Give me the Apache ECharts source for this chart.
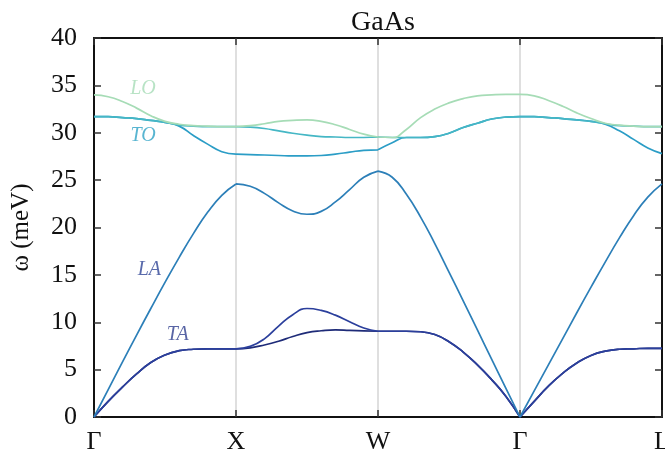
<!DOCTYPE html>
<html>
<head>
<meta charset="utf-8">
<script src="https://cdn.jsdelivr.net/npm/echarts@6/dist/echarts.min.js"></script>
<style>
  html, body { margin: 0; padding: 0; background: #fff; }
  #chart { width: 665px; height: 459px; }
</style>
</head>
<body>
<div id="chart"></div>
<script>
// path position along Γ-X-W-Γ-L, 10 steps per segment
const kPath = []
for (let i = 0; i <= 40; i++) kPath.push(i / 10)
const kLabels = ['Γ', 'X', 'W', 'Γ', 'L']
const yTicks = [0, 5, 10, 15, 20, 25, 30, 35, 40]

// bands sorted by energy (meV)
const bandTA1 = [
  0, 1.65, 3.15, 4.55, 5.75, 6.55, 7.0, 7.15, 7.2, 7.2, 7.2,
  7.3, 7.6, 8.0, 8.5, 8.9, 9.1, 9.2, 9.15, 9.1, 9.05,
  9.05, 9.05, 9.0, 8.7, 7.95, 6.85, 5.5, 3.95, 2.2, 0,
  1.65, 3.25, 4.6, 5.7, 6.5, 6.95, 7.15, 7.2, 7.25, 7.25
]
const bandTA2 = [
  0, 1.65, 3.15, 4.55, 5.75, 6.55, 7.0, 7.15, 7.2, 7.2, 7.2,
  7.45, 8.25, 9.6, 10.8, 11.45, 11.25, 10.75, 10.05, 9.4, 9.05,
  9.05, 9.05, 9.0, 8.7, 7.95, 6.85, 5.5, 3.95, 2.2, 0,
  1.65, 3.25, 4.6, 5.7, 6.5, 6.95, 7.15, 7.2, 7.25, 7.25
]
const bandLA = [
  0, 2.9, 5.8, 8.65, 11.45, 14.2, 16.85, 19.35, 21.6, 23.4, 24.6,
  24.35, 23.6, 22.6, 21.75, 21.4, 21.7, 22.7, 24.0, 25.3, 25.95,
  25.3, 23.5, 21.1, 18.3, 15.3, 12.25, 9.2, 6.1, 3.05, 0,
  2.75, 5.5, 8.25, 11.0, 13.7, 16.35, 18.9, 21.25, 23.2, 24.6
]
const bandTO1 = [
  31.7, 31.7, 31.6, 31.5, 31.3, 31.1, 30.7, 29.7, 28.8, 28.0, 27.75,
  27.7, 27.65, 27.6, 27.55, 27.55, 27.6, 27.75, 27.95, 28.15, 28.2,
  28.95, 29.5, 29.5, 29.6, 29.95, 30.55, 31.0, 31.45, 31.65, 31.7,
  31.7, 31.6, 31.5, 31.35, 31.2, 30.9, 30.2, 29.3, 28.4, 27.8
]
const bandTO2 = [
  31.7, 31.7, 31.6, 31.5, 31.3, 31.1, 30.8, 30.7, 30.65, 30.65, 30.65,
  30.6, 30.45, 30.2, 29.95, 29.75, 29.6, 29.55, 29.5, 29.5, 29.55,
  29.5, 29.5, 29.5, 29.6, 29.95, 30.55, 31.0, 31.45, 31.65, 31.7,
  31.7, 31.6, 31.5, 31.35, 31.2, 30.95, 30.75, 30.7, 30.65, 30.65
]
const bandLO = [
  34.0, 33.8, 33.3, 32.6, 31.8, 31.2, 30.9, 30.75, 30.7, 30.65, 30.65,
  30.75, 30.95, 31.2, 31.3, 31.35, 31.2, 30.85, 30.35, 29.85, 29.55,
  29.5, 30.35, 31.6, 32.5, 33.15, 33.6, 33.9, 34.0, 34.05, 34.05,
  33.9, 33.4, 32.8, 32.1, 31.5, 31.0, 30.8, 30.7, 30.65, 30.65
]

const bandNames = ['TA1', 'TA2', 'LA', 'TO1', 'TO2', 'LO']
const bandColors = ['#1e2b78', '#2b3f9c', '#2c7fb8', '#2b9dc6', '#45b7c5', '#a6dcb6']
const bands = [bandTA1, bandTA2, bandLA, bandTO1, bandTO2, bandLO]

// branch labels
const labelNames = ['LO', 'TO', 'LA', 'TA']
const labelPos = [[0.345, 34.6], [0.345, 29.65], [0.39, 15.5], [0.59, 8.65]]
const labelColors = ['#a6dcb6', '#2ea3c6', '#2f4596', '#2f3f8f']

const serif = '"Liberation Serif", "DejaVu Serif", serif'

// break each band at the high symmetry points so the curve keeps its kinks
function segData(band) {
  const out = []
  for (let s = 0; s < 4; s++) {
    for (let i = 0; i <= 10; i++) {
      out.push([kPath[s * 10 + i], band[s * 10 + i]])
    }
    if (s < 3) out.push([kPath[s * 10 + 10], '-'])
  }
  return out
}

const series = bands.map((b, i) => ({
  name: bandNames[i],
  type: 'line',
  data: segData(b),
  smooth: 0.5,
  showSymbol: false,
  connectNulls: false,
  lineStyle: { color: bandColors[i], width: 1.7 },
  animation: false
}))

series.push({
  type: 'scatter',
  symbolSize: 0,
  animation: false,
  data: labelNames.map((n, i) => ({
    name: n,
    value: labelPos[i],
    label: {
      show: true,
      position: 'inside',
      formatter: '{b}',
      color: labelColors[i],
      fontFamily: serif,
      fontStyle: 'italic',
      fontSize: 20
    }
  }))
})

const chart = echarts.init(document.getElementById('chart'), null, { renderer: 'canvas' })

const axisLine = { show: true, onZero: false, lineStyle: { color: '#111', width: 2 } }
const axisTick = { show: true, inside: true, length: 7, lineStyle: { color: '#333', width: 1.5 } }

chart.setOption({
  animation: false,
  title: {
    text: 'GaAs',
    left: 378,
    textAlign: 'center',
    top: 4,
    textStyle: { fontFamily: serif, fontWeight: 'normal', fontSize: 28, color: '#111' }
  },
  grid: { left: 94, right: 3, top: 38, bottom: 42, outerBoundsMode: 'none', containLabel: false },
  xAxis: [{
    type: 'value',
    min: 0,
    max: 4,
    interval: 1,
    axisLine: axisLine,
    axisTick: axisTick,
    splitLine: { show: true, lineStyle: { color: '#d4d4d4', width: 1.5 } },
    axisLabel: {
      formatter: v => kLabels[v],
      margin: 12,
      fontFamily: serif,
      fontSize: 26,
      color: '#111'
    }
  }, {
    type: 'value',
    position: 'top',
    min: 0,
    max: 4,
    interval: 1,
    axisLine: axisLine,
    axisTick: axisTick,
    splitLine: { show: false },
    axisLabel: { show: false }
  }],
  yAxis: [{
    type: 'value',
    min: 0,
    max: 40,
    interval: 5,
    name: 'ω (meV)',
    nameLocation: 'middle',
    nameGap: 60,
    nameRotate: 90,
    nameTextStyle: { fontFamily: serif, fontSize: 25, color: '#111' },
    axisLine: axisLine,
    axisTick: axisTick,
    splitLine: { show: false },
    axisLabel: {
      formatter: v => (yTicks.indexOf(v) >= 0 ? String(v) : ''),
      margin: 17,
      fontFamily: serif,
      fontSize: 26,
      color: '#111'
    }
  }, {
    type: 'value',
    position: 'right',
    min: 0,
    max: 40,
    interval: 5,
    axisLine: axisLine,
    axisTick: axisTick,
    splitLine: { show: false },
    axisLabel: { show: false }
  }],
  series: series
})
</script>
</body>
</html>
